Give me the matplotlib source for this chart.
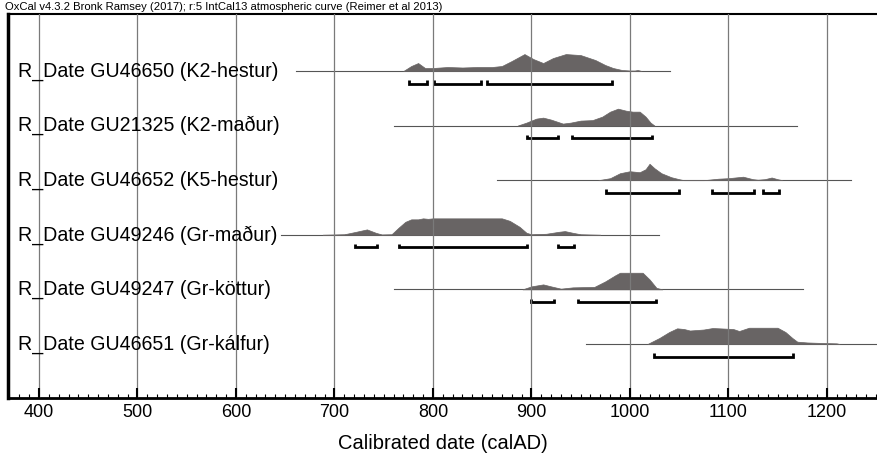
import matplotlib
matplotlib.use('Agg')
import matplotlib.pyplot as plt
import numpy as np

plt.rcParams['font.family'] = ['Liberation Sans', 'DejaVu Sans']

# Sample labels, top to bottom
labels = ['R_Date GU46650 (K2-hestur)',
          'R_Date GU21325 (K2-maður)',
          'R_Date GU46652 (K5-hestur)',
          'R_Date GU49246 (Gr-maður)',
          'R_Date GU49247 (Gr-köttur)',
          'R_Date GU46651 (Gr-kálfur)']

# Extent of the thin baseline for each sample (calAD)
line_start = [661, 760, 865, 646, 760, 955]
line_end = [1041, 1170, 1225, 1030, 1176, 1260]

# Calibrated probability distributions (year, relative height)
yr1 = [770, 778, 785, 792, 800, 815, 830, 845, 860, 870, 880, 893, 902, 912,
       922, 935, 950, 965, 975, 983, 992, 1000, 1005, 1008, 1012]
p1 = [0, 5, 8, 3, 3, 4, 3.5, 4, 4, 5, 10, 17, 12, 8,
      13, 17, 16, 11, 6, 3, 1, 0.5, 0.5, 1, 0]
yr2 = [886, 895, 905, 912, 920, 932, 940, 950, 962, 972, 980, 988, 996, 1003,
       1010, 1016, 1021, 1025]
p2 = [0, 3, 7, 8, 6, 2, 3, 5, 5.5, 9, 14, 17, 15, 14,
      14, 9, 3, 0]
yr3 = [968, 980, 990, 1000, 1010, 1016, 1020, 1025, 1032, 1042, 1050, 1055,
       1075, 1090, 1100, 1115, 1125, 1130, 1137, 1144, 1150, 1155]
p3 = [0, 2, 7, 9, 8, 11, 16.5, 12, 7, 3, 1, 0,
      0, 1.5, 2, 3.5, 1, 0.5, 1, 2.7, 1, 0]
yr4 = [688, 710, 722, 733, 742, 748, 758, 765, 772, 778, 785, 790, 795, 800,
       840, 870, 878, 888, 895, 900, 915, 928, 934, 942, 950, 970]
p4 = [0, 0.5, 3, 5.4, 2, 0.3, 0.5, 7, 13, 15.5, 15.5, 16.5, 16, 16.5,
      16.5, 16.5, 14, 8, 2, 0.5, 1, 3, 3.7, 2, 0.5, 0]
yr5 = [891, 900, 912, 920, 930, 942, 964, 975, 985, 990, 1013, 1020, 1027, 1033]
p5 = [0, 3, 5, 3, 0.7, 2, 2.5, 8, 14, 16.7, 16.7, 10, 1.5, 0]
yr6 = [1018, 1030, 1040, 1048, 1055, 1061, 1075, 1084, 1095, 1105, 1111, 1121,
       1150, 1158, 1165, 1170, 1180, 1195, 1210, 1213]
p6 = [0, 6, 12, 15.7, 15, 13.5, 14.5, 16, 15.5, 15, 13, 16.3,
      16.3, 12, 6, 2.3, 1.5, 1, 0.6, 0]

years = [yr1, yr2, yr3, yr4, yr5, yr6]
probs = [p1, p2, p3, p4, p5, p6]

# 95.4% ranges
ranges = [[(776, 794), (801, 849), (855, 982)],
          [(896, 927), (941, 1023)],
          [(976, 1050), (1083, 1126), (1135, 1151)],
          [(721, 743), (766, 896), (927, 943)],
          [(900, 923), (947, 1027)],
          [(1025, 1166)]]

fig = plt.figure(figsize=(8.77, 4.61), dpi=100)
ax = fig.add_axes([8/877., 63/461., 869/877., 384/461.])

for i in range(len(labels)):
    y0 = -i
    ax.plot([line_start[i], line_end[i]], [y0, y0], color='#555555', lw=0.8, zorder=1)
    h = np.array(probs[i]) * 0.31 / 17.
    ax.fill_between(years[i], y0, y0 + h, color='#686464', lw=0.5, zorder=1.5)
    for (a, b) in ranges[i]:
        yb = y0 - 0.23
        ax.plot([a, a, b, b], [yb + 0.06, yb, yb, yb + 0.06], color='black',
                lw=2, solid_joinstyle='miter', solid_capstyle='butt', zorder=2)
    ax.text(0.0115, y0, labels[i], transform=ax.get_yaxis_transform(),
            fontsize=14.1, va='center', ha='left', zorder=3)

ax.set_xlim(368.5, 1251)
ax.set_ylim(-5.99, 1.044)
ax.set_yticks([])
ax.set_xticks(np.arange(400, 1201, 100))
ax.set_xticks(np.arange(370, 1251, 10), minor=True)
ax.tick_params(axis='x', which='major', direction='in', length=7, width=1.5,
               labelsize=13, pad=4)
ax.tick_params(axis='x', which='minor', direction='in', length=3, width=0.8)
ax.grid(True, axis='x', which='major', color='#7a7a7a', lw=0.9)
ax.set_axisbelow(False)

ax.spines['right'].set_visible(False)
ax.spines['left'].set_linewidth(2.5)
ax.spines['bottom'].set_linewidth(2)
ax.spines['top'].set_linewidth(1.5)

ax.set_xlabel('Calibrated date (calAD)', fontsize=14.5, labelpad=10)

fig.text(5/877., 1 - 1.5/461., 'OxCal v4.3.2 Bronk Ramsey (2017); r:5 IntCal13 atmospheric curve (Reimer et al 2013)',
         fontsize=8.1, va='top', ha='left')

plt.savefig('out.png', dpi=100)
